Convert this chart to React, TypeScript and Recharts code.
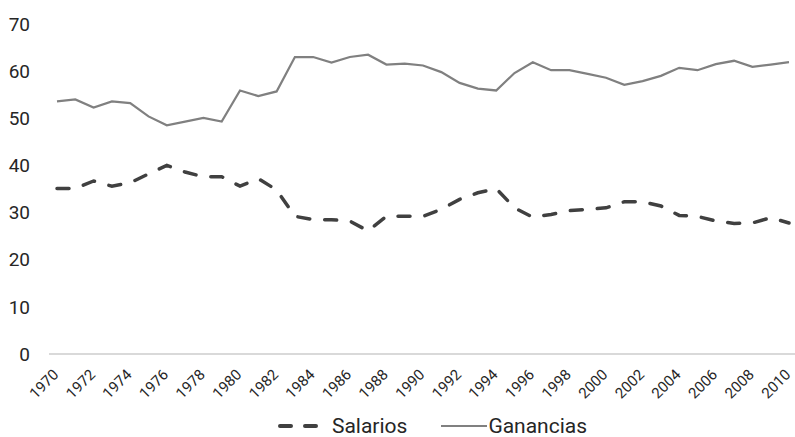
import { LineChart, Line, XAxis, YAxis, Legend } from 'recharts';

const years = [
  '1970', '1971', '1972', '1973', '1974', '1975', '1976', '1977', '1978', '1979',
  '1980', '1981', '1982', '1983', '1984', '1985', '1986', '1987', '1988', '1989',
  '1990', '1991', '1992', '1993', '1994', '1995', '1996', '1997', '1998', '1999',
  '2000', '2001', '2002', '2003', '2004', '2005', '2006', '2007', '2008', '2009', '2010'
];

const salarios = [
  35.1, 35.1, 36.7, 35.6, 36.3, 38.2, 40.0, 38.6, 37.6, 37.6,
  35.6, 37.2, 34.8, 29.2, 28.5, 28.5, 28.2, 26.1, 29.2, 29.2,
  29.2, 30.7, 32.8, 34.2, 35.1, 31.0, 29.0, 29.6, 30.4, 30.7,
  31.0, 32.3, 32.3, 31.4, 29.4, 29.2, 28.2, 27.7, 27.8, 28.9, 27.8
];

const ganancias = [
  53.6, 54.0, 52.3, 53.6, 53.2, 50.4, 48.5, 49.3, 50.1, 49.3,
  55.9, 54.7, 55.7, 63.0, 63.0, 61.8, 63.0, 63.5, 61.4, 61.6,
  61.2, 59.8, 57.5, 56.3, 55.9, 59.6, 61.9, 60.2, 60.2, 59.4,
  58.6, 57.1, 57.9, 59.0, 60.7, 60.2, 61.5, 62.2, 60.9, 61.4, 61.9
];

const yTicks = [0, 10, 20, 30, 40, 50, 60, 70];

const data = years.map((year, i) => ({
  year,
  salarios: salarios[i],
  ganancias: ganancias[i]
}));

const FONT = "Roboto, 'Noto Sans', sans-serif";
const TEXT = '#262626';
const SAL_COLOR = '#404040';
const GAN_COLOR = '#808080';

// rotated year labels, end of text sits just right of the point
const YearTick = ({ x, y, payload }: { x: number; y: number; payload: { value: string } }) => (
  <text
    x={x - 5}
    y={y}
    dy="0.71em"
    textAnchor="end"
    transform={`rotate(-45, ${x - 5}, ${y})`}
    fill={TEXT}
    fontSize={15}
    fontFamily={FONT}
  >
    {payload.value}
  </text>
);

const ChartLegend = () => (
  <div
    style={{
      display: 'flex',
      justifyContent: 'center',
      alignItems: 'center',
      paddingLeft: 70,
      fontFamily: FONT,
      fontSize: 21,
      color: TEXT,
      height: 30,
      paddingTop: 4
    }}
  >
    <svg width={40} height={10} style={{ marginRight: 14 }}>
      <line x1={2} y1={5} x2={38} y2={5} stroke={SAL_COLOR} strokeWidth={4}
        strokeDasharray="11 14" strokeLinecap="round" />
    </svg>
    <span>Salarios</span>
    <svg width={46} height={10} style={{ marginLeft: 34, marginRight: 1 }}>
      <line x1={0} y1={5} x2={46} y2={5} stroke={GAN_COLOR} strokeWidth={2} />
    </svg>
    <span>Ganancias</span>
  </div>
);

export default function App() {
  return (
    <div>
      <style>{`body { margin: 0; }`}</style>
      <LineChart width={795} height={437} data={data} margin={{ top: 24, right: 0, bottom: 0, left: 0 }}>
        <XAxis
          dataKey="year"
          interval={1}
          axisLine={{ stroke: '#d9d9d9', strokeWidth: 2 }}
          tickLine={false}
          tickSize={0}
          tickMargin={14}
          height={53}
          padding={{ left: 8, right: 6 }}
          tick={YearTick}
        />
        <YAxis
          domain={[0, 70]}
          ticks={yTicks}
          axisLine={false}
          tickLine={false}
          tickSize={0}
          tickMargin={19}
          width={49}
          tick={{ fill: TEXT, fontSize: 19, fontFamily: FONT }}
        />
        <Legend verticalAlign="bottom" height={30} content={<ChartLegend />} />
        <Line
          type="linear"
          dataKey="salarios"
          name="Salarios"
          stroke={SAL_COLOR}
          strokeWidth={3.5}
          strokeDasharray="12 15"
          strokeLinecap="round"
          dot={false}
          isAnimationActive={false}
        />
        <Line
          type="linear"
          dataKey="ganancias"
          name="Ganancias"
          stroke={GAN_COLOR}
          strokeWidth={2.25}
          dot={false}
          isAnimationActive={false}
        />
      </LineChart>
    </div>
  );
}
